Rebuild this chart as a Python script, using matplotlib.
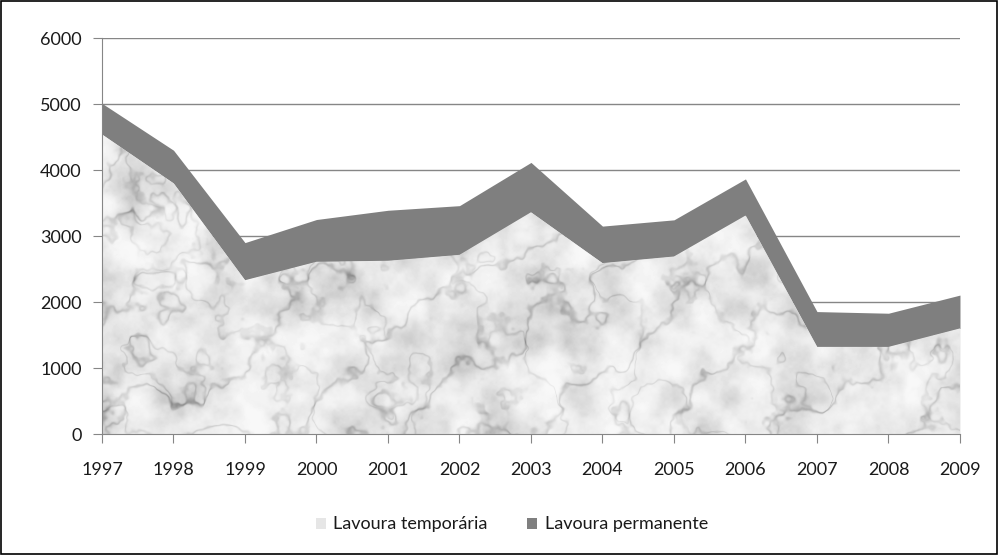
import numpy as np
import matplotlib
matplotlib.use('Agg')
import matplotlib.pyplot as plt
from matplotlib.patches import Rectangle, Patch

# data
anos = [1997, 1998, 1999, 2000, 2001, 2002, 2003, 2004, 2005, 2006, 2007, 2008, 2009]
temporaria = [4540, 3800, 2330, 2610, 2625, 2715, 3360, 2590, 2690, 3310, 1320, 1320, 1600]
permanente = [470, 500, 570, 640, 765, 745, 755, 560, 555, 555, 535, 510, 505]
yticks = [0, 1000, 2000, 3000, 4000, 5000, 6000]

plt.rcParams['font.family'] = ['Lato', 'DejaVu Sans']

fig = plt.figure(figsize=(9.98, 5.55), dpi=100)
ax = fig.add_axes([0.1022, 0.218, 0.8597, 0.7135])

x = np.arange(len(anos))
total = np.array(temporaria) + np.array(permanente)


# marble-like texture for the lower series (decoration only)
def value_noise(rng, h, w, cell):
    small = rng.random((h // cell + 2, w // cell + 2))
    yy = np.arange(h) / cell
    xx = np.arange(w) / cell
    y0 = yy.astype(int); x0 = xx.astype(int)
    fy = (yy - y0)[:, None]; fx = (xx - x0)[None, :]
    fy = fy * fy * (3 - 2 * fy); fx = fx * fx * (3 - 2 * fx)
    a = small[y0][:, x0]; b = small[y0][:, x0 + 1]
    c = small[y0 + 1][:, x0]; d = small[y0 + 1][:, x0 + 1]
    return a * (1 - fx) * (1 - fy) + b * fx * (1 - fy) + c * (1 - fx) * fy + d * fx * fy


rng = np.random.default_rng(7)
h, w = 396, 858
turb = sum(value_noise(rng, h, w, c) * c for c in [40, 20, 10, 5]) / 75.0
cloud = sum(value_noise(rng, h, w, c) * c for c in [30, 15, 8, 4, 2]) / 59.0
Y, X = np.mgrid[0:h, 0:w]
v1 = np.abs(np.sin((X * 0.7 + Y * 1.0) / 30.0 + turb * 5))
v2 = np.abs(np.sin((X * 1.0 - Y * 0.6) / 42.0 + turb * 6 + 1.3))
vein = np.exp(-(v1 / 0.16) ** 2) * 0.6 + np.exp(-(v2 / 0.14) ** 2) * 0.4
img = 0.97 - 0.35 * (cloud - 0.2).clip(0) ** 1.5 - 0.22 * vein * (0.4 + cloud)
img = np.clip(img, 0, 1)

poly = ax.fill_between(x, 0, temporaria, color='#e4e4e4', linewidth=0, zorder=2)
im = ax.imshow(img, cmap='gray', vmin=0, vmax=1, extent=[0, 12, 0, 6000],
               aspect='auto', zorder=2.1, interpolation='bilinear')
im.set_clip_path(poly.get_paths()[0], transform=ax.transData)
ax.fill_between(x, temporaria, total, color='#7f7f7f', linewidth=0, zorder=2)

ax.set_xlim(0, 12)
ax.set_ylim(0, 6000)
ax.set_yticks(yticks)
ax.set_xticks(x)
ax.set_xticklabels([str(a) for a in anos])
ax.yaxis.grid(True, color='#868686', linewidth=1)
ax.set_axisbelow(True)
for s in ['top', 'right']:
    ax.spines[s].set_visible(False)
for s in ['left', 'bottom']:
    ax.spines[s].set_color('#868686')
    ax.spines[s].set_zorder(3)
ax.tick_params(axis='both', colors='#868686', labelcolor='#1a1a1a', labelsize=13, length=6.5)
ax.tick_params(axis='y', pad=8)
ax.tick_params(axis='x', pad=14)

handles = [Patch(facecolor='#e6e6e6', edgecolor='none', label='Lavoura temporária'),
           Patch(facecolor='#7f7f7f', edgecolor='none', label='Lavoura permanente')]
fig.legend(handles=handles, loc='center', bbox_to_anchor=(0.513, 0.055), ncol=2,
           frameon=False, fontsize=13, handlelength=0.55, handleheight=0.55,
           handletextpad=0.4, columnspacing=2.2, labelcolor='#1a1a1a')

fig.patches.append(Rectangle((0.001, 0.002), 0.998, 0.996, transform=fig.transFigure,
                             fill=False, edgecolor='black', linewidth=1.2))

fig.savefig('out.png', dpi=100)
